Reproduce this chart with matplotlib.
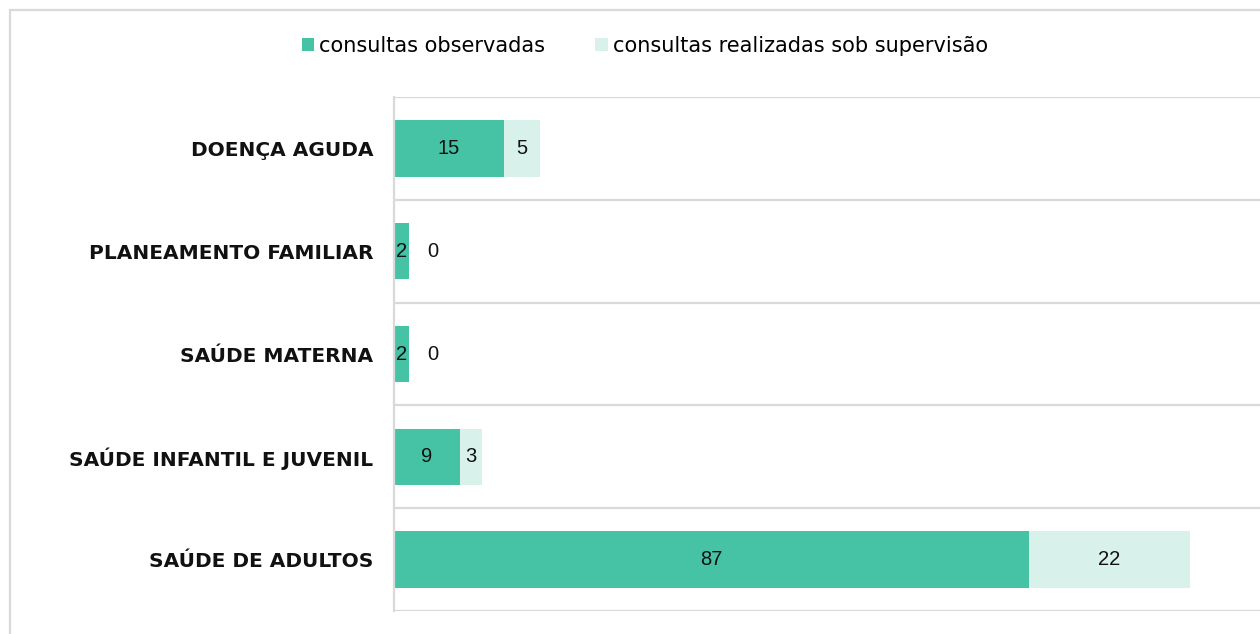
import matplotlib.pyplot as plt
from matplotlib.patches import Rectangle, Patch

# data, top to bottom as shown
categories = ['DOENÇA AGUDA', 'PLANEAMENTO FAMILIAR', 'SAÚDE MATERNA',
              'SAÚDE INFANTIL E JUVENIL', 'SAÚDE DE ADULTOS']
observadas = [15, 2, 2, 9, 87]
supervisao = [5, 0, 0, 3, 22]
series_names = ['consultas observadas', 'consultas realizadas sob supervisão']

green = '#46C2A5'
light = '#D8F1EA'
grid_col = '#D9D9D9'

fig = plt.figure(figsize=(12.6, 6.34), dpi=100)
W, H = 1260, 634

# outer chart border (cut off right / bottom like the original)
fig.patches.append(Rectangle((10 / W, -0.1), 1.2, (634 - 10) / H + 0.1,
                             transform=fig.transFigure, fill=False,
                             edgecolor=grid_col, linewidth=1.6))

ax = fig.add_axes([394 / W, (H - 611) / H, (W - 394) / W, (611 - 97) / H])

y = list(range(len(categories)))
ax.barh(y, observadas, height=0.55, color=green, edgecolor='none')
ax.barh(y, supervisao, left=observadas, height=0.55, color=light, edgecolor='none')

ax.set_xlim(0, 118.6)
ax.set_ylim(len(categories) - 0.5, -0.5)

# value labels
lab = dict(fontsize=14.5, family='Liberation Sans', color='#111111', va='center')
for i in y:
    o, s = observadas[i], supervisao[i]
    ax.text(o / 2, i, str(o), ha='center', **lab)
    if s > 0:
        ax.text(o + s / 2, i, str(s), ha='center', **lab)
    else:
        ax.annotate(str(s), (o, i), xytext=(19, 0), textcoords='offset pixels',
                    ha='left', **lab)

# separators between categories
for b in [i - 0.5 for i in range(len(categories) + 1)]:
    ax.axhline(b, color=grid_col, linewidth=1.6, zorder=0)

for sp in ['top', 'right', 'bottom']:
    ax.spines[sp].set_visible(False)
ax.spines['left'].set_color(grid_col)
ax.spines['left'].set_linewidth(1.6)

ax.set_xticks([])
ax.set_yticks(y)
ax.set_yticklabels(categories, fontsize=14.5, fontweight='bold',
                   family='DejaVu Sans', color='#111111')
ax.tick_params(axis='y', length=0, pad=15)

handles = [Patch(facecolor=green, edgecolor='none'),
           Patch(facecolor=light, edgecolor='none')]
fig.legend(handles, series_names, loc='center', bbox_to_anchor=(645 / W, 1 - 46 / H),
           ncol=2, frameon=False, handlelength=0.6, handleheight=0.6,
           handletextpad=0.25, columnspacing=2.4,
           prop={'family': 'DejaVu Sans', 'size': 15})

fig.savefig('out.png', dpi=100)
